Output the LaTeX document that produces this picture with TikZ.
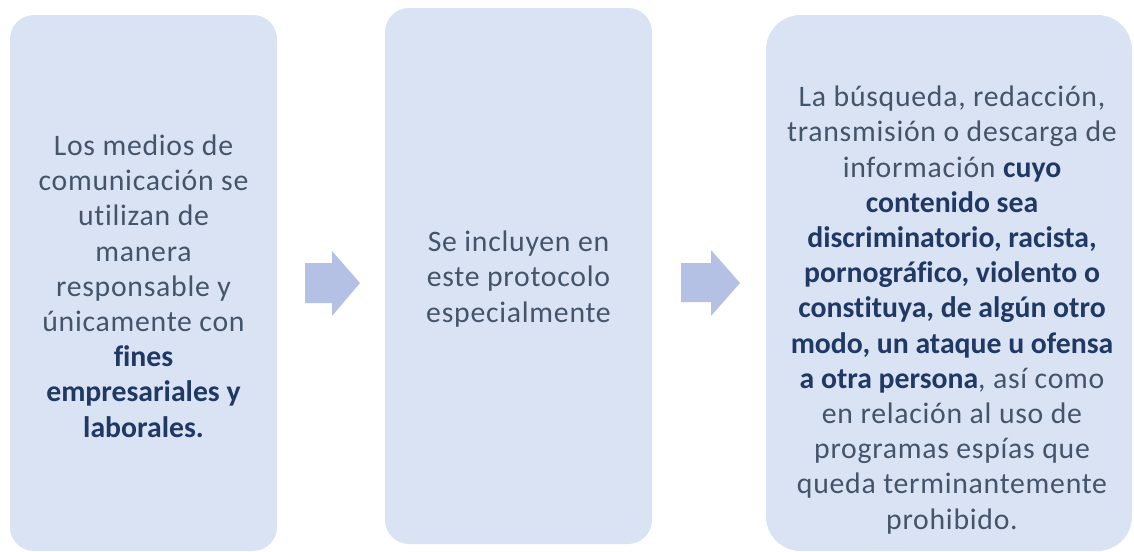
\documentclass[tikz,border=0pt]{standalone}
\usepackage{fontspec}
\setmainfont{Carlito}[Ligatures=NoCommon,LetterSpace=2.5,BoldFeatures={LetterSpace=0}]
\definecolor{boxfill}{HTML}{DAE3F3}
\definecolor{arrowfill}{HTML}{B4C0E4}
\definecolor{txt}{HTML}{44546A}
\definecolor{txtb}{HTML}{1F3864}
\newcommand{\hb}[1]{{\bfseries\color{txtb}#1}}
\begin{document}
\begin{tikzpicture}[x=0.75pt,y=-0.75pt,
  box/.style={fill=boxfill,draw=none,inner sep=0pt},
  label/.style={text=txt,align=center,inner sep=0pt,font=\fontsize{22.3}{26.4}\selectfont},
  blockarrow/.style={fill=arrowfill,draw=none}]
\useasboundingbox (0,0) rectangle (1134,551);
% boxes
\node[box,rounded corners=18pt,minimum width=200.25pt,minimum height=402pt] (b1) at (143.5,283) {};
\node[box,rounded corners=18pt,minimum width=200.25pt,minimum height=402pt] (b2) at (518.5,276) {};
\node[box,rounded corners=26pt,minimum width=274.5pt,minimum height=402pt] (b3) at (949,283) {};
% texts
\node[label] (t1) at (143.5,286) {Los medios de\\comunicación se\\utilizan de\\manera\\responsable y\\únicamente con\\\hb{fines}\\\hb{empresariales y}\\\hb{laborales.}};
\node[label] (t2) at (518.5,279) {Se incluyen en\\este protocolo\\especialmente};
\node[label] (t3) at (952,310) {La búsqueda, redacción,\\transmisión o descarga de\\información \hb{cuyo}\\\hb{contenido sea}\\\hb{discriminatorio, racista,}\\\hb{pornográfico, violento o}\\\hb{constituya, de algún otro}\\\hb{modo, un ataque u ofensa}\\\hb{a otra persona}, así como\\en relación al uso de\\programas espías que\\queda terminantemente\\prohibido.};
% block arrows
\fill[blockarrow] (305,263) -- (332,263) -- (332,251) -- (360,283) -- (332,316) -- (332,303) -- (305,303) -- cycle;
\fill[blockarrow] (681,263) -- (711,263) -- (711,250) -- (740,283) -- (711,316) -- (711,302) -- (681,302) -- cycle;
\end{tikzpicture}
\end{document}
